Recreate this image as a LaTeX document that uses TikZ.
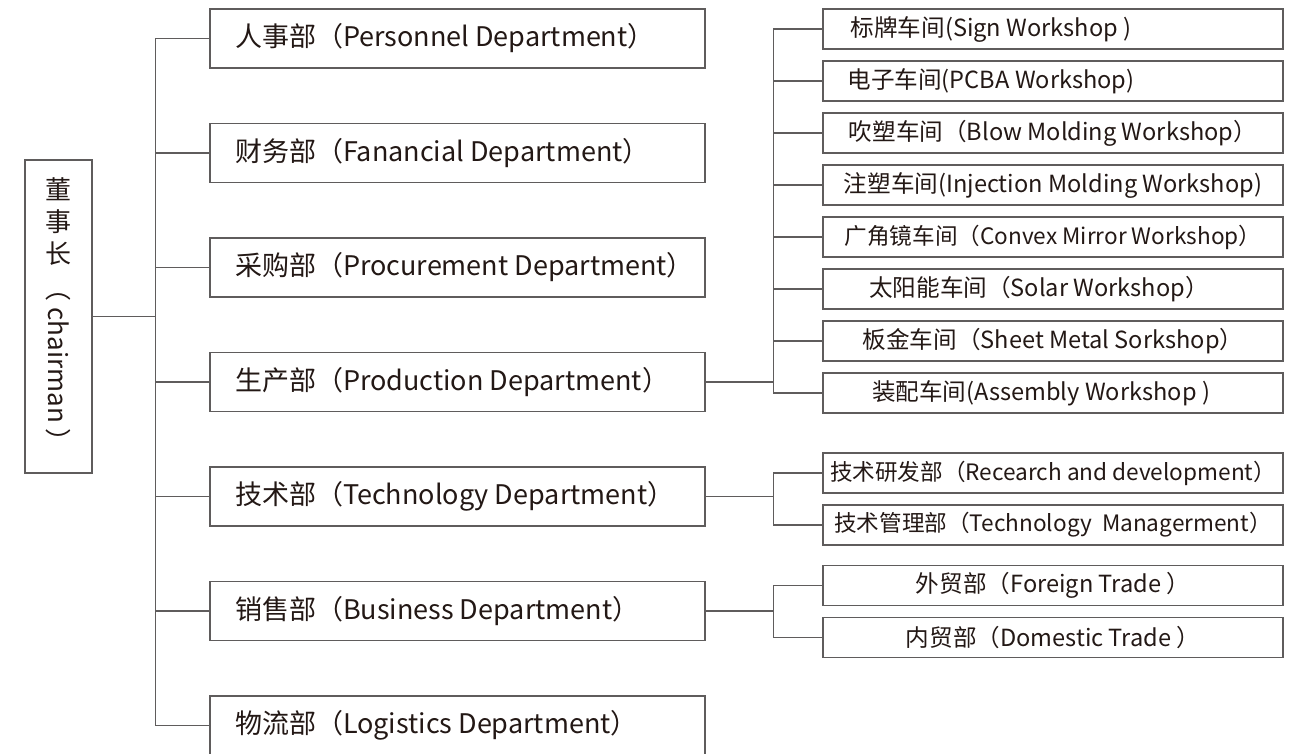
\documentclass[tikz,border=0pt]{standalone}
\usepackage{fontspec}
\setmainfont{Noto Sans CJK SC}
\usetikzlibrary{positioning}
\definecolor{linegray}{RGB}{95,92,92}
\definecolor{inkblack}{RGB}{35,24,21}
\newcommand{\deptlabel}[1]{\makebox[222.5pt][l]{#1}}
\tikzstyle{chair} = [rectangle, minimum width=33.5pt, minimum height=156.5pt, align=center, draw=linegray, line width=0.7pt, text=inkblack, font=\fontsize{13}{16}\selectfont]
\tikzstyle{dept} = [rectangle, minimum width=247.5pt, minimum height=29.5pt, inner xsep=12.5pt, draw=linegray, line width=0.7pt, text=inkblack, font=\fontsize{13.5}{16}\selectfont]
\tikzstyle{shop} = [rectangle, minimum width=230pt, minimum height=20pt, inner xsep=2pt, draw=linegray, line width=0.7pt, text=inkblack, font=\fontsize{11.8}{14}\selectfont]
\tikzstyle{wideshop} = [shop, font=\fontsize{11.3}{14}\selectfont]
\tikzstyle{branch} = [draw=linegray, line width=0.7pt]

\begin{document}
\begin{tikzpicture}[node distance=57.25pt]
\clip (0,0) rectangle (648pt,-377pt);

% Nodes
\node (chairman) [chair] at (29.25pt,-158.25pt) {董\\事\\长\\[-10pt]\rotatebox{-90}{（ chairman ）}};
\node (personnel) [dept] at (228.75pt,-19.25pt) {\deptlabel{人事部（Personnel Department）}};
\node (finance) [dept, below of=personnel] {\deptlabel{财务部（Fanancial Department）}};
\node (procurement) [dept, below of=finance] {\deptlabel{采购部（Procurement Department）}};
\node (production) [dept, below of=procurement] {\deptlabel{生产部（Production Department）}};
\node (technology) [dept, below of=production] {\deptlabel{技术部（Technology Department）}};
\node (business) [dept, below of=technology] {\deptlabel{销售部（Business Department）}};
\node (logistics) [dept, below of=business] {\deptlabel{物流部（Logistics Department）}};

% Workshops and sections
\begin{scope}[node distance=26pt]
\node (sign) [shop] at (526.5pt,-14.5pt) {标牌车间(Sign Workshop )\hspace*{62pt}};
\node (pcba) [shop, below of=sign] {电子车间(PCBA Workshop)\hspace*{62pt}};
\node (blow) [shop, below of=pcba] {吹塑车间（Blow Molding Workshop）};
\node (injection) [shop, below of=blow] {注塑车间(Injection Molding Workshop)};
\node (convex) [wideshop, below of=injection] {广角镜车间（Convex Mirror Workshop）};
\node (solar) [shop, below of=convex] {太阳能车间（Solar Workshop）\hspace*{14pt}};
\node (sheet) [shop, below of=solar] {板金车间（Sheet Metal Sorkshop）};
\node (assembly) [shop, below of=sheet] {装配车间(Assembly Workshop )\hspace*{12pt}};
\node (research) [wideshop] at (526.5pt,-236.5pt) {技术研发部（Recearch and development）};
\node (techmgmt) [wideshop, below of=research] {技术管理部（Technology\ \ Managerment）};
\node (foreign) [shop] at (526.5pt,-292.75pt) {外贸部（Foreign Trade\ ）};
\node (domestic) [shop, below of=foreign] {内贸部（Domestic Trade\ ）};
\end{scope}

% Lines
\draw [branch] (chairman.east) -- ++(31.5pt,0) |- (personnel.west);
\draw [branch] (chairman.east) -- ++(31.5pt,0) |- (finance.west);
\draw [branch] (chairman.east) -- ++(31.5pt,0) |- (procurement.west);
\draw [branch] (chairman.east) -- ++(31.5pt,0) |- (production.west);
\draw [branch] (chairman.east) -- ++(31.5pt,0) |- (technology.west);
\draw [branch] (chairman.east) -- ++(31.5pt,0) |- (business.west);
\draw [branch] (chairman.east) -- ++(31.5pt,0) |- (logistics.west);

\draw [branch] (production.east) -- ++(34pt,0) |- (sign.west);
\draw [branch] (production.east) -- ++(34pt,0) |- (pcba.west);
\draw [branch] (production.east) -- ++(34pt,0) |- (blow.west);
\draw [branch] (production.east) -- ++(34pt,0) |- (injection.west);
\draw [branch] (production.east) -- ++(34pt,0) |- (convex.west);
\draw [branch] (production.east) -- ++(34pt,0) |- (solar.west);
\draw [branch] (production.east) -- ++(34pt,0) |- (sheet.west);
\draw [branch] (production.east) -- ++(34pt,0) |- (assembly.west);

\draw [branch] (technology.east) -- ++(34pt,0) |- (research.west);
\draw [branch] (technology.east) -- ++(34pt,0) |- (techmgmt.west);

\draw [branch] (business.east) -- ++(34pt,0) |- (foreign.west);
\draw [branch] (business.east) -- ++(34pt,0) |- (domestic.west);

\end{tikzpicture}
\end{document}
